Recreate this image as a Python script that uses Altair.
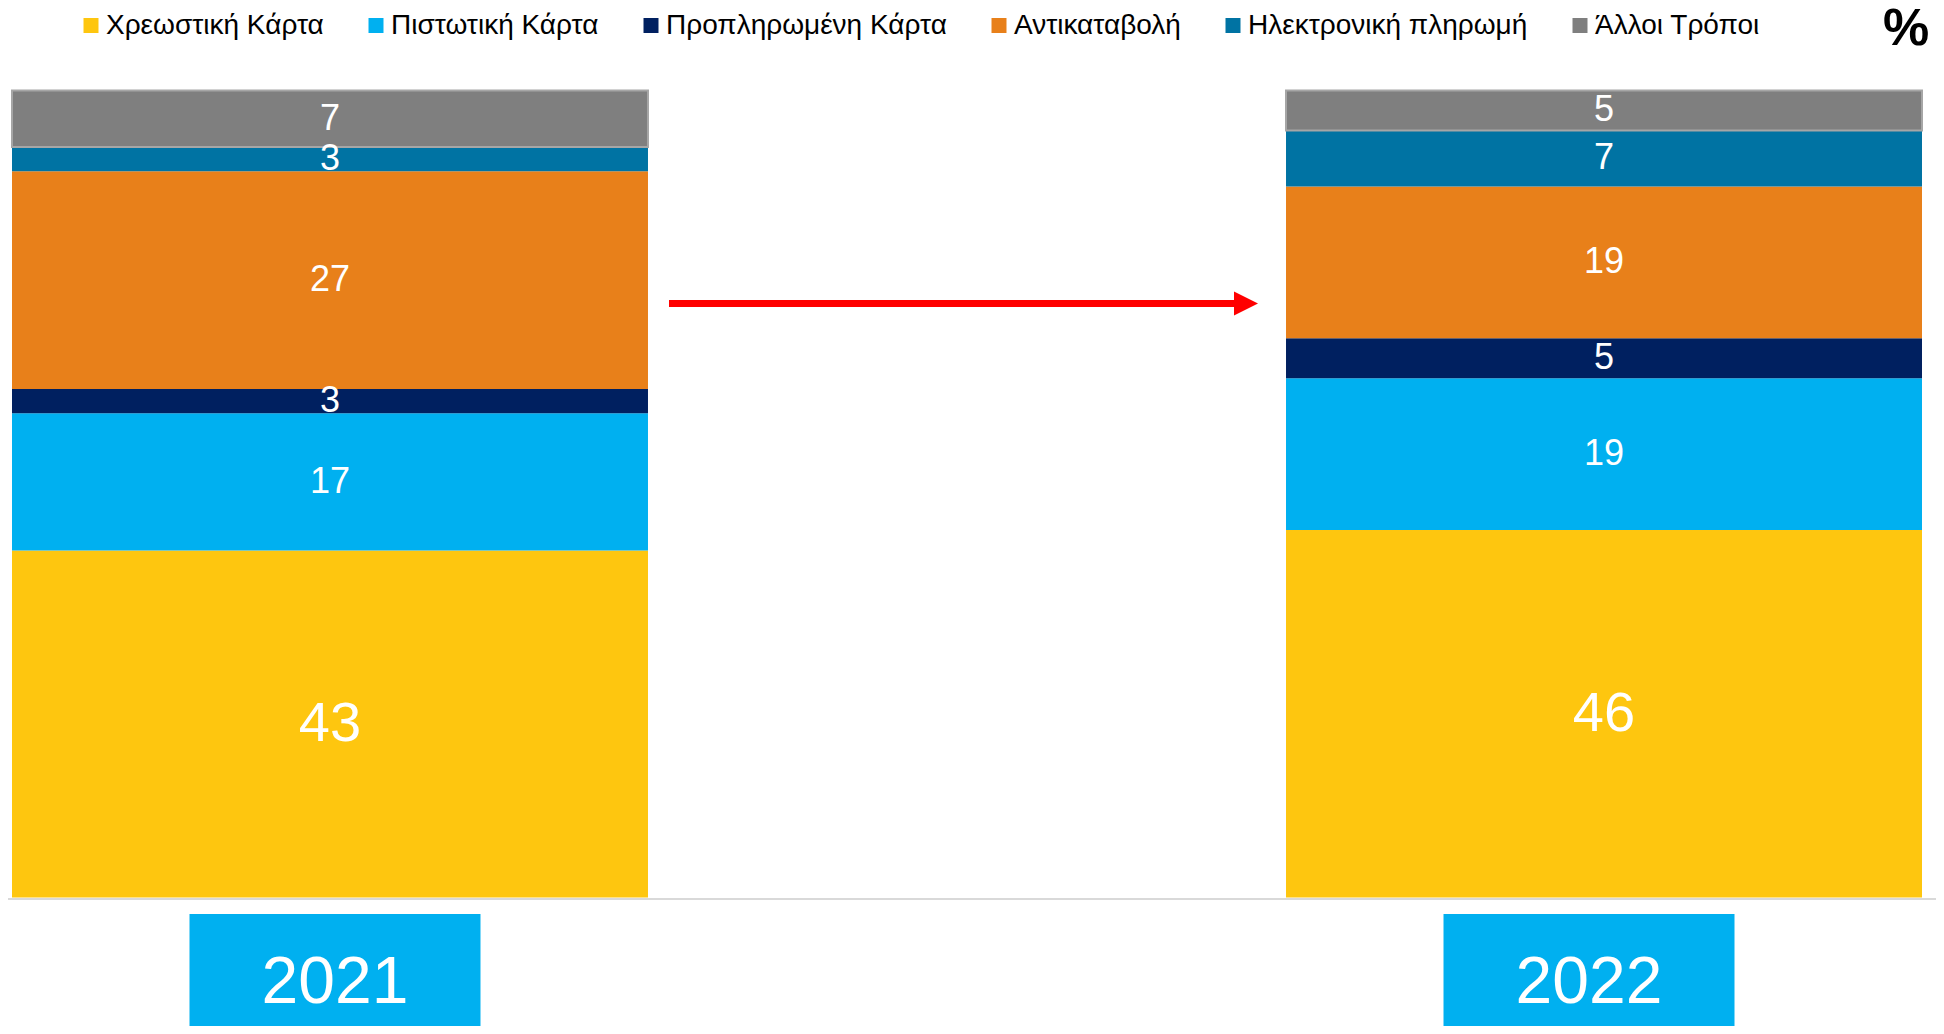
import altair as alt
import pandas as pd

# ---- data ----
years = ["2021", "2022"]
categories = [
    "Χρεωστική Κάρτα",
    "Πιστωτική Κάρτα",
    "Προπληρωμένη Κάρτα",
    "Αντικαταβολή",
    "Ηλεκτρονική πληρωμή",
    "Άλλοι Τρόποι",
]
values_2021 = [43, 17, 3, 27, 3, 7]
values_2022 = [46, 19, 5, 19, 7, 5]
colors = ["#FEC60F", "#00B0F0", "#002060", "#E8801A", "#0073A3", "#7F7F7F"]

rows = []
for yr, vals in zip(years, [values_2021, values_2022]):
    for i, (c, v) in enumerate(zip(categories, vals)):
        rows.append({"year": yr, "cat": c, "value": v, "order": i})
df = pd.DataFrame(rows)
year_df = pd.DataFrame({"year": years})

FONT = "Liberation Sans"
W, H = 1918, 807

xscale = alt.Scale(domain=years, paddingInner=0.5008, paddingOuter=0.00314)
yscale = alt.Scale(domain=[0, 1], zero=False, nice=False)

base = alt.Chart(df).transform_stack(
    stack="value",
    groupby=["year"],
    as_=["v0", "v1"],
    sort=[alt.SortField("order")],
    offset="normalize",
).transform_calculate(mid="(datum.v0 + datum.v1) / 2")

bars = base.mark_bar(stroke="#A6A6A6").encode(
    x=alt.X("year:N", scale=xscale, axis=None),
    y=alt.Y("v0:Q", scale=yscale, axis=None),
    y2="v1:Q",
    color=alt.Color(
        "cat:N",
        scale=alt.Scale(domain=categories, range=colors),
        sort=categories,
        legend=alt.Legend(
            title=None,
            orient="none",
            legendX=69,
            legendY=-79,
            direction="horizontal",
            symbolType="square",
            symbolSize=225,
            symbolStrokeWidth=0,
            labelFont=FONT,
            labelFontSize=28,
            labelColor="black",
            labelOffset=1,
            columnPadding=38,
            padding=0,
            labelLimit=0,
        ),
    ),
    strokeWidth=alt.condition(alt.datum.cat == "Άλλοι Τρόποι", alt.value(2), alt.value(0)),
)

labels = base.mark_text(font=FONT, color="white", baseline="middle", align="center").encode(
    x=alt.X("year:N", scale=xscale, axis=None),
    y=alt.Y("mid:Q", scale=yscale, axis=None),
    text="value:Q",
    size=alt.condition(alt.datum.order == 0, alt.value(56), alt.value(36)),
)

one = pd.DataFrame({"a": [0]})
baseline = alt.Chart(one).mark_rule(color="#D9D9D9", strokeWidth=2).encode(
    x=alt.value(-8), x2=alt.value(1936), y=alt.value(808.5)
)

arrow_line = alt.Chart(one).mark_rule(color="#FF0000", strokeWidth=7).encode(
    x=alt.value(661), x2=alt.value(1230), y=alt.value(213)
)
arrow_head = alt.Chart(one).mark_point(
    shape="M-1,-1L1,0L-1,1Z", size=576, filled=True, color="#FF0000", opacity=1
).encode(x=alt.value(1238), y=alt.value(213))

pct = alt.Chart(one).mark_text(
    text="%", font=FONT, fontSize=52, fontWeight="bold", color="black",
    align="center", baseline="middle"
).encode(x=alt.value(1898), y=alt.value(-62))

shift = {"2021": 5, "2022": -15}
year_layers = []
for yr in years:
    yd = alt.Chart(year_df).transform_filter(alt.datum.year == yr)
    year_layers.append(
        yd.mark_bar(width=291, color="#00B0F0", xOffset=shift[yr]).encode(
            x=alt.X("year:N", scale=xscale, axis=None),
            y=alt.value(823.5),
            y2=alt.value(960),
        )
    )
    year_layers.append(
        yd.mark_text(font=FONT, fontSize=66, color="white", baseline="middle",
                     align="center", xOffset=shift[yr]).encode(
            x=alt.X("year:N", scale=xscale, axis=None),
            y=alt.value(892),
            text="year:N",
        )
    )

chart = alt.layer(
    baseline, bars, labels, arrow_line, arrow_head, pct, *year_layers
).properties(
    width=W,
    height=H,
    autosize=alt.AutoSizeParams(type="none"),
    padding={"left": 0, "top": 82.5, "right": 10, "bottom": 128.5},
).configure_view(strokeWidth=0)

chart.save("out.html", embed_options={"renderer": "svg", "actions": False})
